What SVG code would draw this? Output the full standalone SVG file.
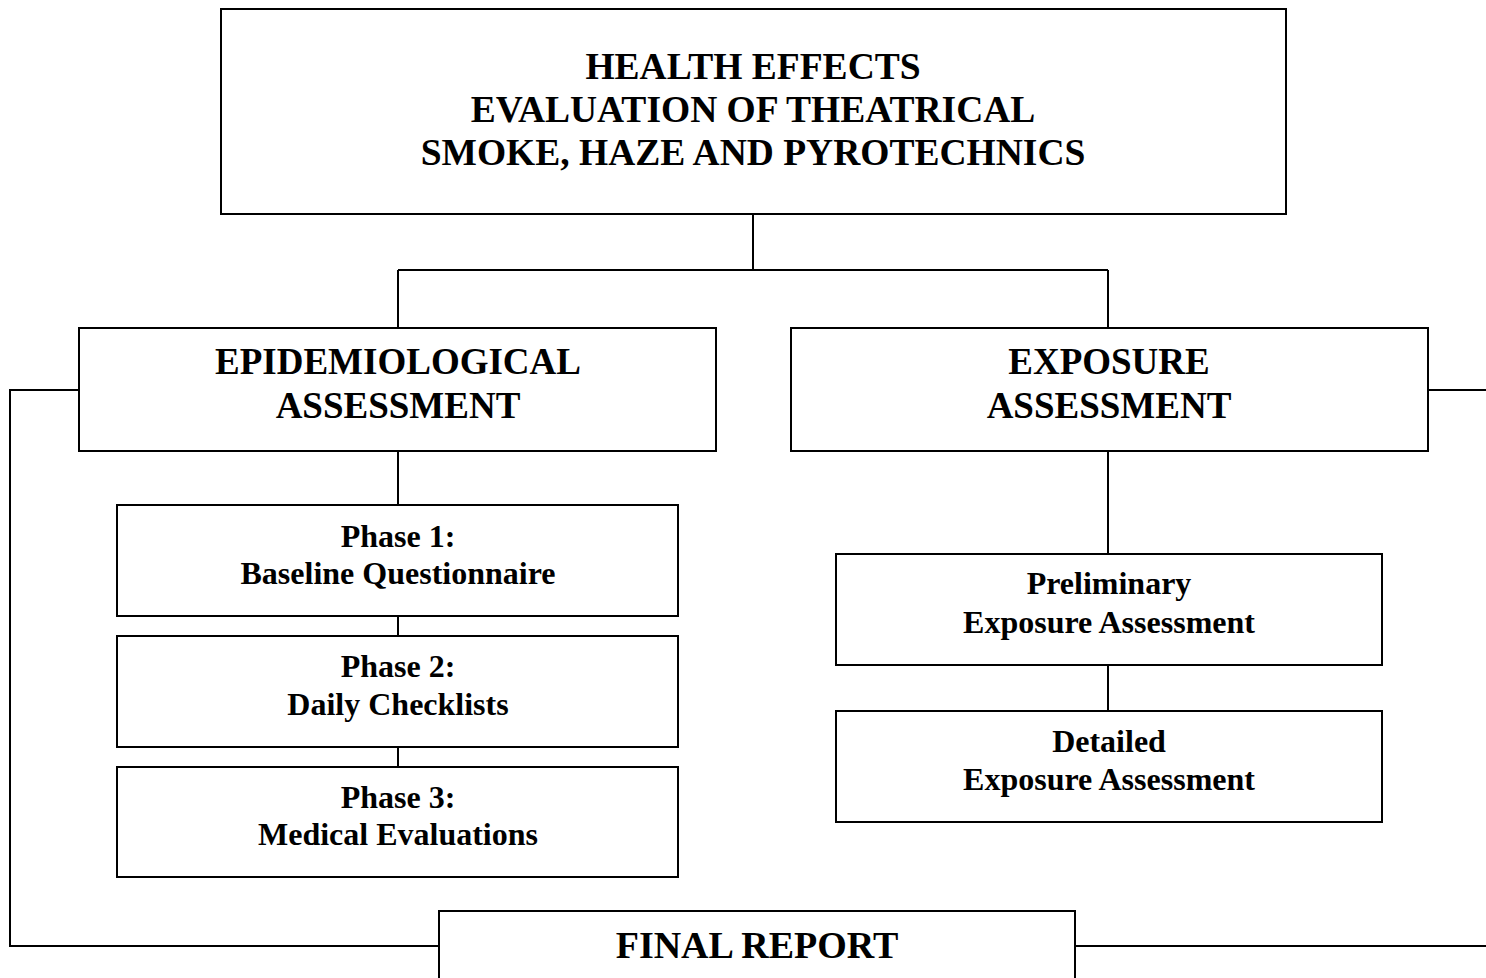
<svg xmlns="http://www.w3.org/2000/svg" width="1486" height="978" viewBox="0 0 1486 978">
<style>
.box{fill:#fff;stroke:#000;stroke-width:2}
.ln{fill:none;stroke:#000;stroke-width:2}
text{font-family:"Liberation Serif","Times New Roman",serif;font-weight:bold;fill:#000;text-anchor:middle}
.t1{font-size:37.5px}
.t2{font-size:37px}
.t3{font-size:32px}
.t4{font-size:38px}
</style>
<rect width="1486" height="978" fill="#fff"/>
<g id="connectors">
<path class="ln" d="M753 214V270M398 270H1108M398 270V328M1108 270V328"/>
<path class="ln" d="M398 451V505M398 616V636M398 747V767"/>
<path class="ln" d="M1108 451V554M1108 665V711"/>
<path class="ln" d="M79 390H10V946H439"/>
<path class="ln" d="M1428 390H1486"/>
<path class="ln" d="M1075 946H1486"/>
</g>
<g id="top">
<rect class="box" x="221" y="9" width="1065" height="205"/>
<text class="t1" x="753" y="79">HEALTH EFFECTS</text>
<text class="t1" x="753" y="122">EVALUATION OF THEATRICAL</text>
<text class="t1" x="753" y="165">SMOKE, HAZE AND PYROTECHNICS</text>
</g>
<g id="epi">
<rect class="box" x="79" y="328" width="637" height="123"/>
<text class="t2" x="398" y="374">EPIDEMIOLOGICAL</text>
<text class="t2" x="398" y="418">ASSESSMENT</text>
</g>
<g id="exposure">
<rect class="box" x="791" y="328" width="637" height="123"/>
<text class="t2" x="1109" y="374">EXPOSURE</text>
<text class="t2" x="1109" y="418">ASSESSMENT</text>
</g>
<g id="phase1">
<rect class="box" x="117" y="505" width="561" height="111"/>
<text class="t3" x="398" y="547">Phase 1:</text>
<text class="t3" x="398" y="584">Baseline Questionnaire</text>
</g>
<g id="phase2">
<rect class="box" x="117" y="636" width="561" height="111"/>
<text class="t3" x="398" y="677">Phase 2:</text>
<text class="t3" x="398" y="715">Daily Checklists</text>
</g>
<g id="phase3">
<rect class="box" x="117" y="767" width="561" height="110"/>
<text class="t3" x="398" y="808">Phase 3:</text>
<text class="t3" x="398" y="845">Medical Evaluations</text>
</g>
<g id="prelim">
<rect class="box" x="836" y="554" width="546" height="111"/>
<text class="t3" x="1109" y="594">Preliminary</text>
<text class="t3" x="1109" y="633">Exposure Assessment</text>
</g>
<g id="detailed">
<rect class="box" x="836" y="711" width="546" height="111"/>
<text class="t3" x="1109" y="752">Detailed</text>
<text class="t3" x="1109" y="790">Exposure Assessment</text>
</g>
<g id="final">
<rect class="box" x="439" y="911" width="636" height="80"/>
<text class="t4" x="757" y="958">FINAL REPORT</text>
</g>
</svg>
